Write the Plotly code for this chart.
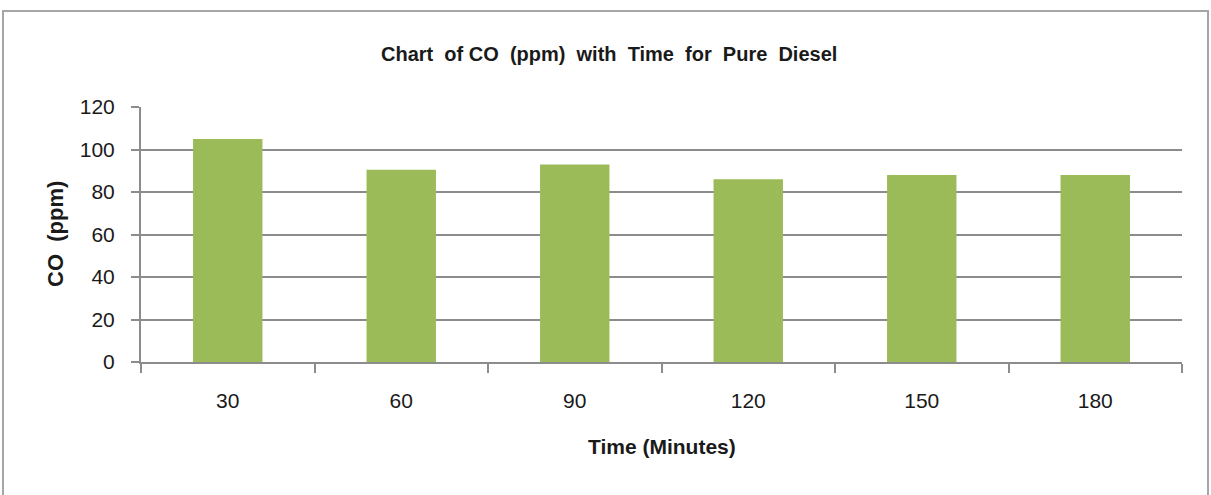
import plotly.graph_objects as go

categories = ["30", "60", "90", "120", "150", "180"]
co_ppm = [105, 90.5, 93, 86, 88, 88]
y_ticks = [0, 20, 40, 60, 80, 100, 120]

W, H = 1211, 495
# reference pixel positions of plot area
PL, PR, PT, PB = 141, 1182, 107, 362
L, T = PL, PT
R = W - PR
B = H - PB
pw, ph = W - L - R, H - T - B

def px_x(px):
    return (px - L) / pw

def px_y(py):
    return (PB - py) / ph

font_family = "Liberation Sans, Arial, sans-serif"

fig = go.Figure()
fig.add_trace(go.Bar(
    x=categories, y=co_ppm,
    marker=dict(color="#9BBB59", line=dict(width=0)),
    width=0.4,
))

fig.update_layout(
    width=W, height=H,
    margin=dict(l=L, r=R, t=T, b=B),
    paper_bgcolor="white", plot_bgcolor="white",
    showlegend=False,
    annotations=[
        dict(text="<b>Chart  of CO  (ppm)  with  Time  for  Pure  Diesel</b>", xref="paper", yref="paper",
             x=px_x(609), y=px_y(54), showarrow=False,
             font=dict(family=font_family, size=20, color="#1a1a1a"),
             xanchor="center", yanchor="middle"),
        dict(text="<b>CO  (ppm)</b>", textangle=-90, xref="paper", yref="paper",
             x=px_x(55), y=px_y(234), showarrow=False,
             font=dict(family=font_family, size=22, color="#1a1a1a"),
             xanchor="center", yanchor="middle"),
        dict(text="<b>Time (Minutes)</b>", xref="paper", yref="paper",
             x=px_x(662), y=px_y(446), showarrow=False,
             font=dict(family=font_family, size=21, color="#1a1a1a"),
             xanchor="center", yanchor="middle"),
    ],
    xaxis=dict(
        type="category",
        showgrid=False,
        showline=True, linecolor="#8c8c8c", linewidth=2,
        ticks="outside", tickson="boundaries", ticklen=9, tickcolor="#8c8c8c", tickwidth=2,
        tickfont=dict(family=font_family, size=21, color="#1a1a1a"),
        ticklabelstandoff=19,
        range=[-0.5, 5.5],
    ),
    yaxis=dict(
        range=[0, 120],
        tickvals=y_ticks,
        showgrid=True, gridcolor="#8c8c8c", gridwidth=2,
        showline=True, linecolor="#8c8c8c", linewidth=2,
        ticks="outside", ticklen=8, tickcolor="#8c8c8c", tickwidth=2,
        tickfont=dict(family=font_family, size=21, color="#1a1a1a"),
        ticklabelstandoff=12,
        zeroline=False,
    ),
    shapes=[dict(
        type="rect", xref="paper", yref="paper",
        x0=px_x(3), x1=px_x(1208), y0=px_y(520), y1=px_y(11),
        line=dict(color="#a6a6a6", width=2), fillcolor="rgba(0,0,0,0)", layer="below",
    )],
)

fig.write_html(
    "out.html",
    config={"displayModeBar": False},
    post_script="document.body.style.margin='0';document.body.style.padding='0';",
)
